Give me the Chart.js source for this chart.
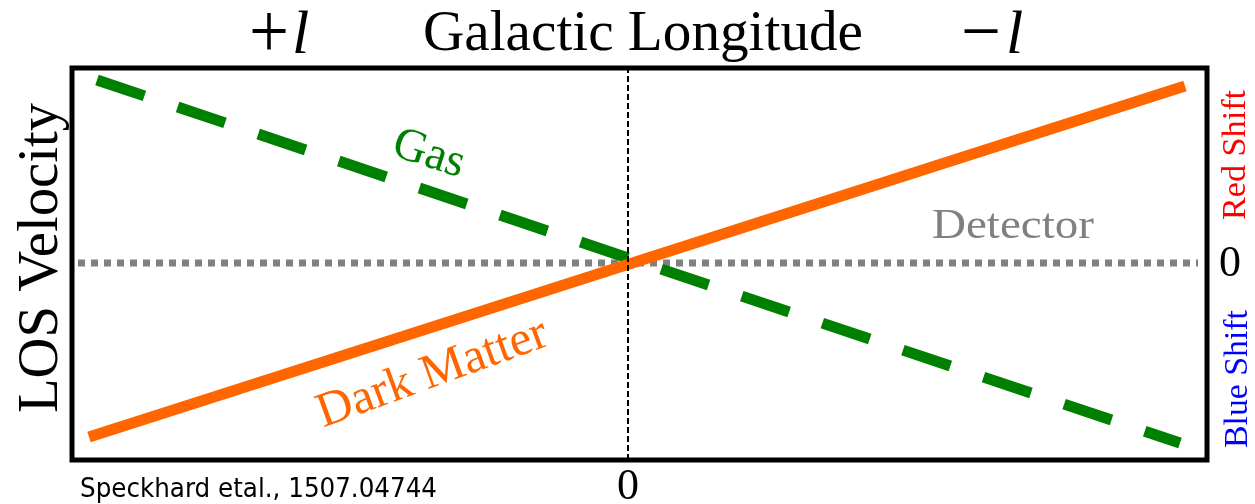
<!DOCTYPE html>
<html>
<head>
<meta charset="utf-8">
<title>Galactic Longitude vs LOS Velocity</title>
<script src="https://cdn.jsdelivr.net/npm/chart.js@4/dist/chart.umd.min.js"></script>
<style>
  html, body { margin: 0; padding: 0; background: #ffffff; }
  canvas { display: block; }
</style>
</head>
<body>
<canvas id="chart" width="1255" height="504"></canvas>
<script>
// Axis ranges (longitude offset, line-of-sight velocity) in arbitrary units
const longitudeRange = [-5.56, 5.79];
const velocityRange = [-1.97, 1.95];

// Gas: rotation curve seen from the detector (dashed green)
const gasLongitude = [-5.31, 5.52];
const gasVelocity = [1.83, -1.80];

// Dark matter: counter-rotating (solid orange)
const darkLongitude = [-5.39, 5.57];
const darkVelocity = [-1.74, 1.77];

// Detector rest frame (zero velocity, grey dotted)
const detectorLongitude = [-5.50, 5.70];
const detectorVelocity = [0, 0];

// Galactic centre marker (l = 0)
const centreLongitude = [0, 0];
const centreVelocity = [velocityRange[0], velocityRange[1]];

// Tick labels
const longitudeTicks = [0];
const velocityTicks = [0];

const toPoints = (xs, ys) => xs.map((x, i) => ({ x, y: ys[i] }));

function drawText(ctx, text, x, y, opts) {
  ctx.save();
  ctx.translate(x, y);
  if (opts.rotate) ctx.rotate(opts.rotate * Math.PI / 180);
  ctx.font = opts.font;
  ctx.fillStyle = opts.color || '#000';
  ctx.textAlign = opts.align || 'center';
  ctx.textBaseline = 'alphabetic';
  if (opts.fitWidth) {
    const w = ctx.measureText(text).width;
    ctx.scale(opts.fitWidth / w, 1);
  }
  ctx.fillText(text, 0, 0);
  ctx.restore();
}

const SERIF = '"Liberation Serif", "Times New Roman", serif';

const framePlugin = {
  id: 'frameAndLabels',
  beforeDraw(chart) {
    const ctx = chart.ctx;
    ctx.save();
    ctx.fillStyle = '#ffffff';
    ctx.fillRect(0, 0, chart.width, chart.height);
    ctx.restore();
  },
  afterDraw(chart) {
    const ctx = chart.ctx;
    const a = chart.chartArea;
    const xs = chart.scales.x, ys = chart.scales.y;

    // Plot frame
    ctx.save();
    ctx.strokeStyle = '#000';
    ctx.lineWidth = 5;
    ctx.lineJoin = 'miter';
    ctx.strokeRect(a.left, a.top, a.right - a.left, a.bottom - a.top);
    ctx.restore();

    // Top axis title and direction markers
    drawText(ctx, 'Galactic Longitude', 643, 50, { font: '57px ' + SERIF, fitWidth: 440 });
    drawText(ctx, '+', 269, 57, { font: '78px ' + SERIF, fitWidth: 40 });
    drawText(ctx, 'l', 292, 53, { font: 'italic 62px ' + SERIF, align: 'left' });
    drawText(ctx, '\u2212', 981, 57, { font: '78px ' + SERIF, fitWidth: 40 });
    drawText(ctx, 'l', 1006, 53, { font: 'italic 62px ' + SERIF, align: 'left' });

    // Left axis title
    drawText(ctx, 'LOS Velocity', 57, 258, { font: '56px ' + SERIF, rotate: -90, fitWidth: 310 });

    // Right side: red / blue shift
    drawText(ctx, 'Red Shift', 1245, 155, { font: '34px ' + SERIF, color: '#ff0000', rotate: -90, fitWidth: 130 });
    drawText(ctx, 'Blue Shift', 1247, 379, { font: '34px ' + SERIF, color: '#0000ff', rotate: -90, fitWidth: 138 });

    // Zero ticks
    velocityTicks.forEach(v => {
      drawText(ctx, String(v), 1230, ys.getPixelForValue(v) + 13, { font: '44px ' + SERIF });
    });
    longitudeTicks.forEach(v => {
      drawText(ctx, String(v), xs.getPixelForValue(v), 499, { font: '44px ' + SERIF });
    });

    // Series labels
    drawText(ctx, 'Gas', 425, 166, { font: '47px ' + SERIF, color: '#008000', rotate: 18, fitWidth: 73 });
    drawText(ctx, 'Dark Matter', 437, 386, { font: '49px ' + SERIF, color: '#ff6600', rotate: -20, fitWidth: 242 });
    drawText(ctx, 'Detector', 1013, 238, { font: '42px ' + SERIF, color: '#808080', fitWidth: 162 });

    // Reference
    drawText(ctx, 'Speckhard etal., 1507.04744', 80, 497, { font: '26px "DejaVu Sans"', align: 'left', fitWidth: 357 });
  }
};

new Chart(document.getElementById('chart'), {
  type: 'scatter',
  data: {
    datasets: [
      {
        label: 'Centre',
        data: toPoints(centreLongitude, centreVelocity),
        showLine: true, pointRadius: 0,
        borderColor: '#000000', borderWidth: 2, borderDash: [6, 3],
        order: -1
      },
      {
        label: 'Dark Matter',
        data: toPoints(darkLongitude, darkVelocity),
        showLine: true, pointRadius: 0,
        borderColor: '#ff6600', borderWidth: 11, borderCapStyle: 'butt',
        order: 0
      },
      {
        label: 'Gas',
        data: toPoints(gasLongitude, gasVelocity),
        showLine: true, pointRadius: 0,
        borderColor: '#008000', borderWidth: 11, borderDash: [50, 35], borderCapStyle: 'butt',
        order: 1
      },
      {
        label: 'Detector',
        data: toPoints(detectorLongitude, detectorVelocity),
        showLine: true, pointRadius: 0,
        borderColor: '#808080', borderWidth: 7, borderDash: [7, 6], borderCapStyle: 'butt',
        order: 2
      }
    ]
  },
  options: {
    responsive: false,
    devicePixelRatio: 1,
    animation: false,
    events: [],
    layout: { padding: { left: 72, right: 48, top: 68, bottom: 44 } },
    plugins: { legend: { display: false }, tooltip: { enabled: false }, title: { display: false } },
    scales: {
      x: { type: 'linear', min: longitudeRange[0], max: longitudeRange[1], display: false },
      y: { type: 'linear', min: velocityRange[0], max: velocityRange[1], display: false }
    }
  },
  plugins: [framePlugin]
});
</script>
</body>
</html>
